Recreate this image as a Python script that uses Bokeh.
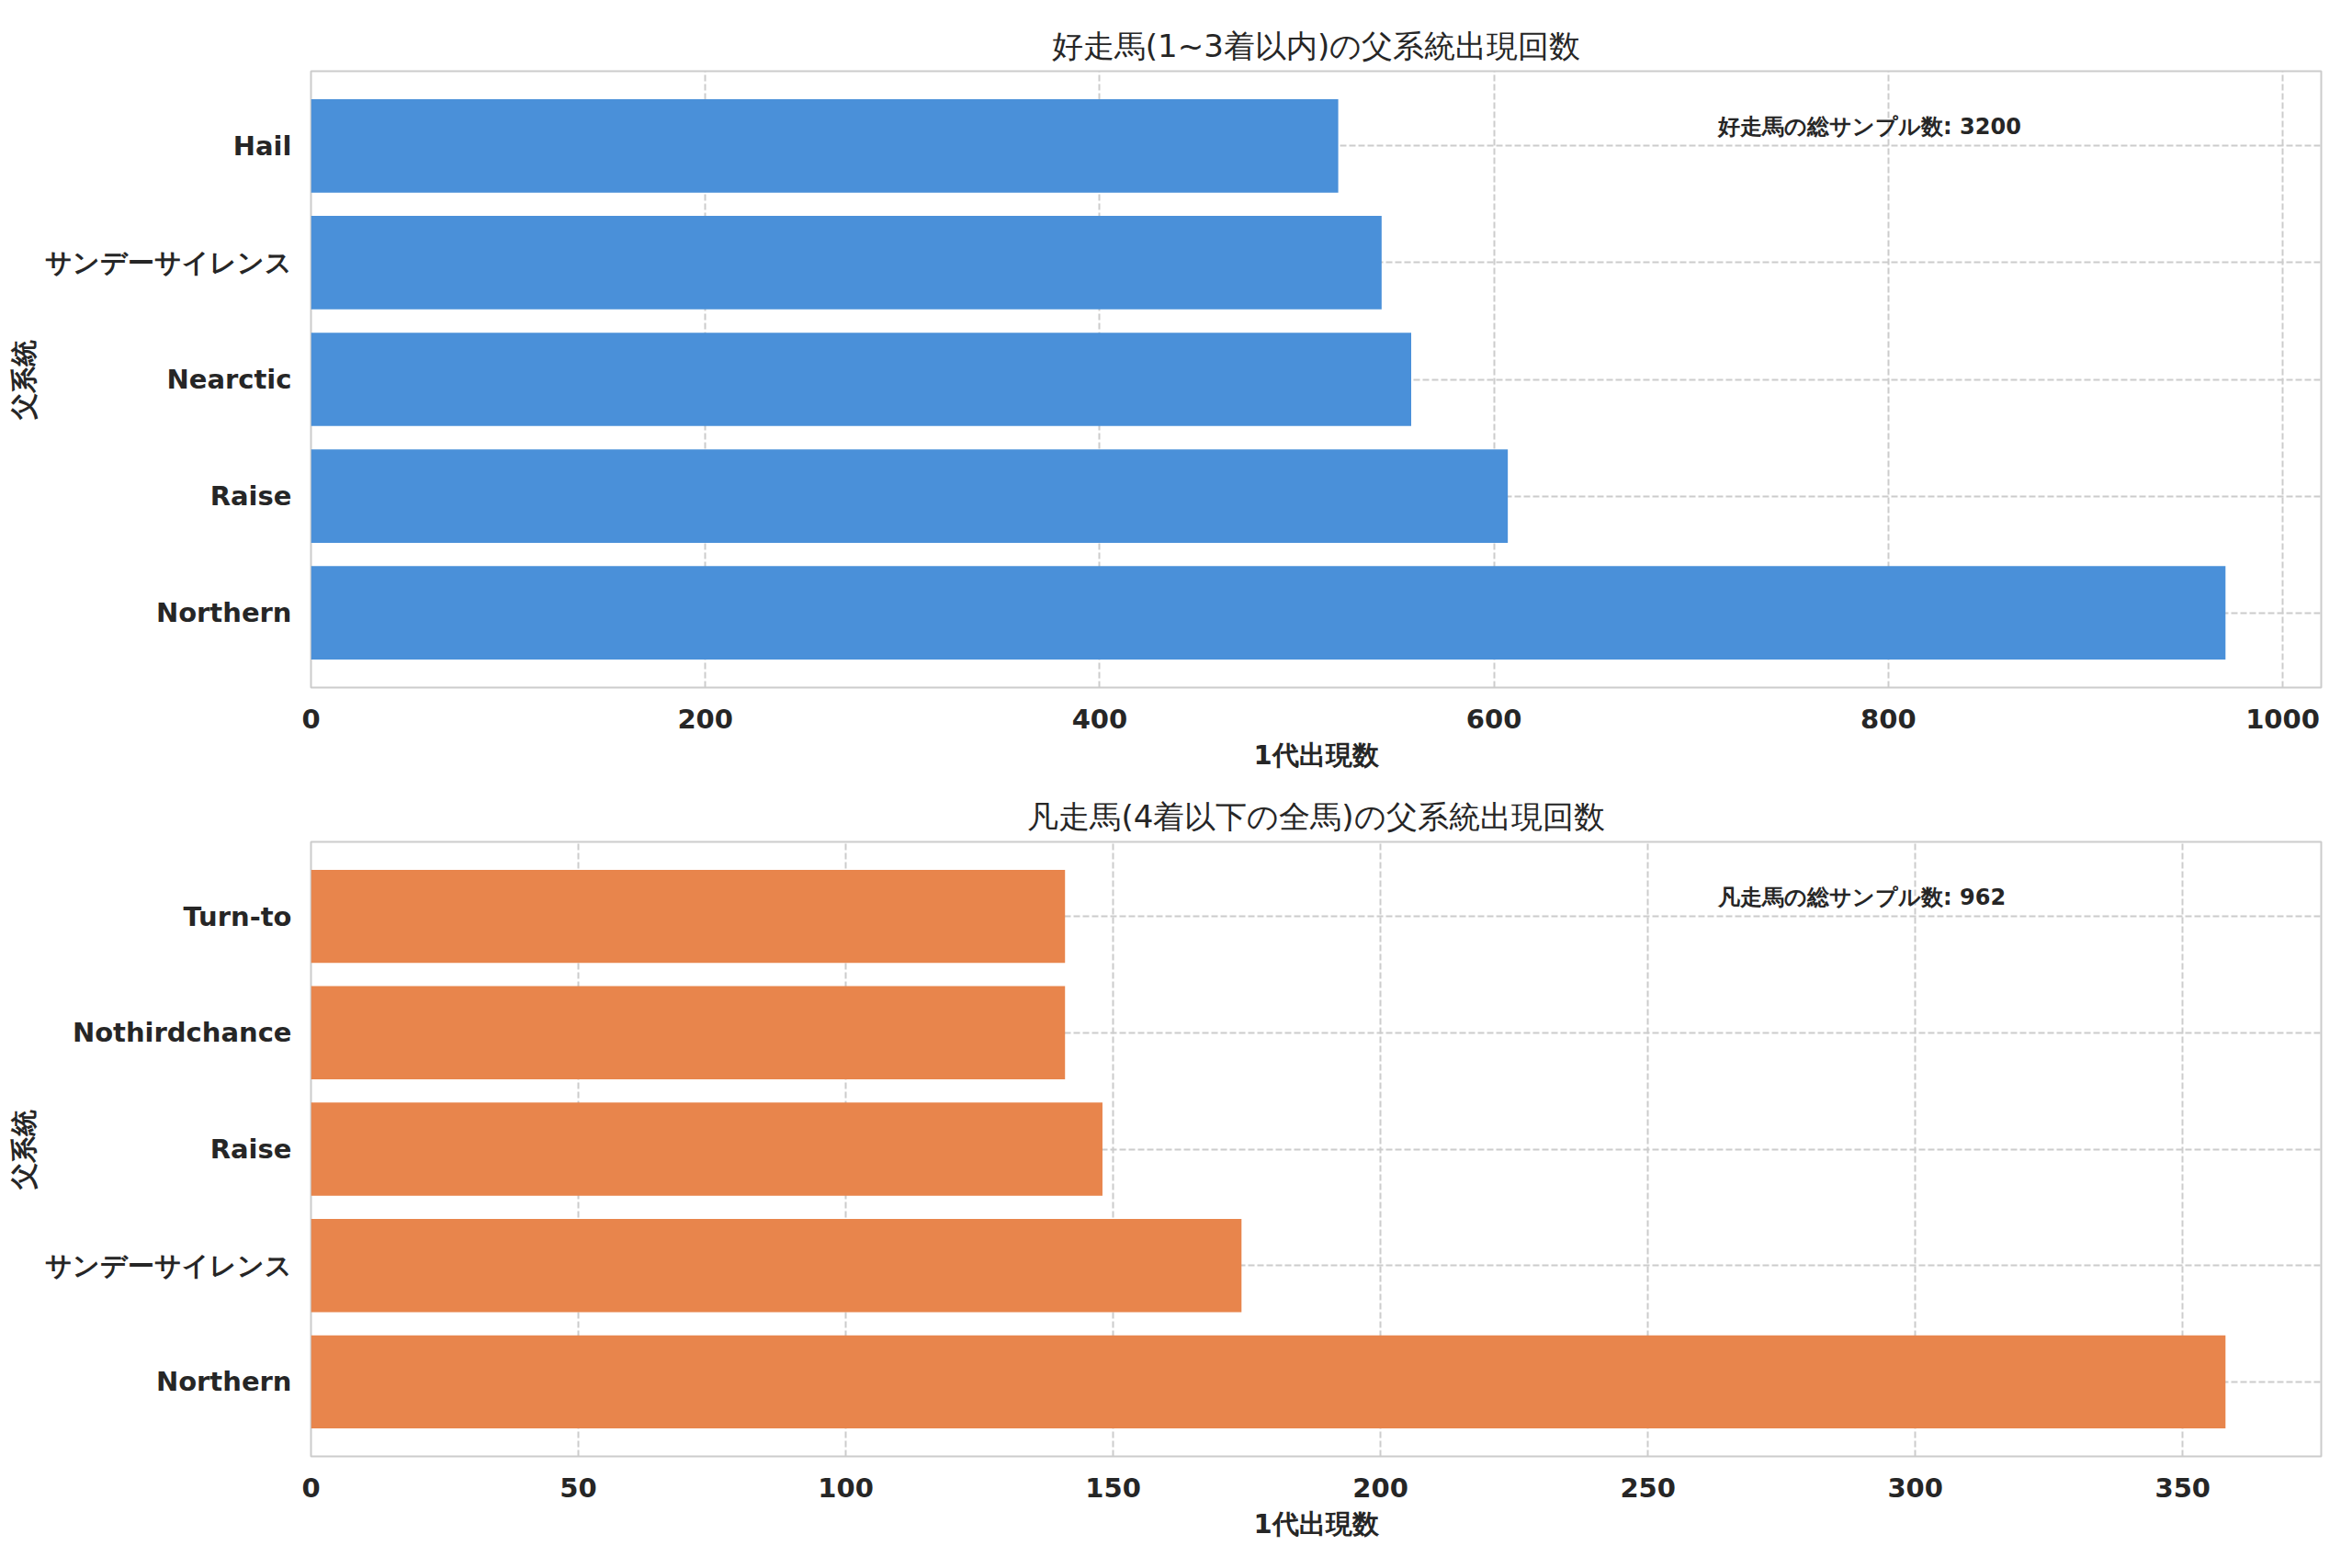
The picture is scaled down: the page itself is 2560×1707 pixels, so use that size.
from bokeh.plotting import figure
from bokeh.models import FactorRange, Range1d, Label, FixedTicker
from bokeh.layouts import column
from bokeh.embed import file_html
from bokeh.resources import INLINE

# ---- data ----
top_title = "好走馬(1~3着以内)の父系統出現回数"
bottom_title = "凡走馬(4着以下の全馬)の父系統出現回数"
x_label = "1代出現数"
y_label = "父系統"

top_cats = ["Northern", "Raise", "Nearctic", "サンデーサイレンス", "Hail"]
top_vals = [971, 607, 558, 543, 521]
top_total = 3200
top_ticks = [0, 200, 400, 600, 800, 1000]

bottom_cats = ["Northern", "サンデーサイレンス", "Raise", "Nothirdchance", "Turn-to"]
bottom_vals = [358, 174, 148, 141, 141]
bottom_total = 962
bottom_ticks = [0, 50, 100, 150, 200, 250, 300, 350]

total_label = "好走馬の総サンプル数"
total_label_b = "凡走馬の総サンプル数"

FONT = "DejaVu Sans"
TXT = "#262626"
GRID = "#cccccc"


def make(title, cats, vals, ticks, color, ann, height, btop, bbot):
    xmax = max(vals) * 1.05
    p = figure(width=2552, height=height, output_backend="svg", toolbar_location=None,
               y_range=FactorRange(factors=cats, range_padding=0.056),
               x_range=Range1d(0, xmax),
               min_border_left=338, min_border_right=26,
               min_border_top=btop, min_border_bottom=bbot,
               title=title)
    p.hbar(y=cats, right=vals, left=0, height=0.8, color=color, line_color=None)
    p.title.text_font = FONT
    p.title.text_font_size = "34px"
    p.title.text_font_style = "normal"
    p.title.text_color = TXT
    p.title.align = "center"
    p.title.standoff = 15
    p.outline_line_color = "#cccccc"
    p.outline_line_width = 2
    p.background_fill_color = "white"
    p.border_fill_color = "white"
    for ax in (p.xaxis[0], p.yaxis[0]):
        ax.axis_line_color = None
        ax.major_tick_line_color = None
        ax.minor_tick_line_color = None
        ax.major_label_text_font = FONT
        ax.major_label_text_font_size = "29px"
        ax.major_label_text_font_style = "bold"
        ax.major_label_text_color = TXT
        ax.axis_label_text_font = FONT
        ax.axis_label_text_font_size = "29px"
        ax.axis_label_text_font_style = "bold"
        ax.axis_label_text_color = TXT
    p.xaxis[0].major_label_standoff = 17
    p.xaxis[0].axis_label_standoff = 9
    p.yaxis[0].major_label_standoff = 15
    p.yaxis[0].axis_label_standoff = 3
    p.xaxis[0].ticker = FixedTicker(ticks=ticks)
    p.xaxis[0].axis_label = x_label
    p.yaxis[0].axis_label = y_label
    for g in (p.xgrid[0], p.ygrid[0]):
        g.grid_line_color = GRID
        g.grid_line_width = 2
        g.grid_line_dash = "7 3"
    n = len(cats)
    pad = n * 0.056 / 2
    ylo, yhi = -pad, n + pad
    p.add_layout(Label(x=0.7 * xmax, y=ylo + 0.91 * (yhi - ylo), text=ann,
                       text_font=FONT, text_font_size="24px", text_font_style="bold",
                       text_color=TXT, text_baseline="middle", text_align="left"))
    return p


p1 = make(top_title, top_cats, top_vals, top_ticks, "#4a90d9",
          f"{total_label}: {top_total}", 850, 77, 102)
p2 = make(bottom_title, bottom_cats, bottom_vals, bottom_ticks, "#e8854c",
          f"{total_label_b}: {bottom_total}", 840, 66, 105)

page = column(p1, p2, spacing=0)
open("out.html", "w").write(file_html(page, INLINE))
